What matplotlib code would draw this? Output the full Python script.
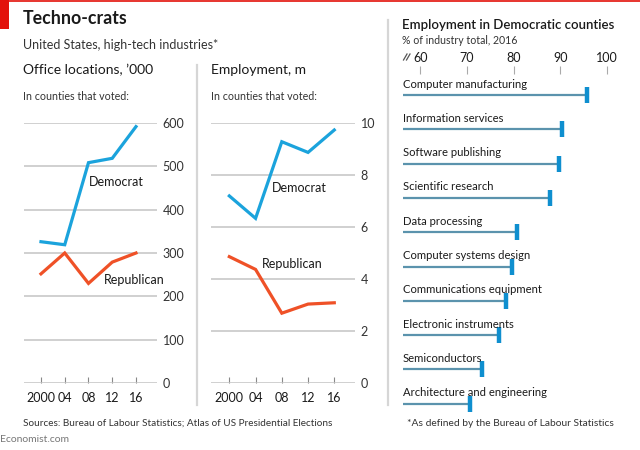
import matplotlib
matplotlib.use("Agg")
import matplotlib.pyplot as plt
from matplotlib.patches import Rectangle
from matplotlib.lines import Line2D

plt.rcParams['font.family'] = ['Lato', 'DejaVu Sans']

# ---------------- data ----------------
years = [2000, 2004, 2008, 2012, 2016]
year_labels = ['2000', '04', '08', '12', '16']

office_dem = [326, 319, 508, 518, 591]
office_rep = [252, 300, 230, 279, 300]
office_ticks = [0, 100, 200, 300, 400, 500, 600]

emp_dem = [7.19, 6.33, 9.27, 8.86, 9.72]
emp_rep = [4.86, 4.37, 2.69, 3.04, 3.09]
emp_ticks = [0, 2, 4, 6, 8, 10]

industries = ['Computer manufacturing', 'Information services', 'Software publishing',
              'Scientific research', 'Data processing', 'Computer systems design',
              'Communications equipment', 'Electronic instruments', 'Semiconductors',
              'Architecture and engineering']
dem_share = [95.7, 90.3, 89.7, 87.9, 80.8, 79.7, 78.4, 76.8, 73.2, 70.6]
share_ticks = [60, 70, 80, 90, 100]

DEM = '#1ba3dc'
REP = '#ef5127'
GRID = '#c4c4c4'
TXT = '#1a1a1a'
SUB = '#333333'

W, H = 640, 450
fig = plt.figure(figsize=(W / 100, H / 100), dpi=100)


def box(x0, y0, x1, y1):
    return [x0 / W, 1 - y1 / H, (x1 - x0) / W, (y1 - y0) / H]


def fx(px):
    return px / W


def fy(py):
    return 1 - py / H


# header
fig.add_artist(Line2D([0, 1], [fy(1), fy(1)], color='#e3120b', lw=1.2))
fig.add_artist(Rectangle((0, fy(29)), fx(9), 29 / H, color='#e3120b', lw=0))
fig.text(fx(23), fy(19), 'Techno-crats', fontsize=12.8, fontweight='bold', color=TXT, va='center')
fig.text(fx(23), fy(45), 'United States, high-tech industries*', fontsize=9, color=SUB, va='center')

# separators
fig.add_artist(Line2D([fx(197), fx(197)], [fy(65), fy(405)], color='#d6d6d6', lw=1.6))
fig.add_artist(Line2D([fx(388), fx(388)], [fy(20), fy(405)], color='#d6d6d6', lw=1.6))

# panel titles
fig.text(fx(23), fy(70), "Office locations, \u2019000", fontsize=10, color=TXT, va='center')
fig.text(fx(23), fy(96), 'In counties that voted:', fontsize=7.7, color=SUB, va='center')
fig.text(fx(211), fy(70), 'Employment, m', fontsize=10, color=TXT, va='center')
fig.text(fx(211), fy(96), 'In counties that voted:', fontsize=7.7, color=SUB, va='center')


def line_panel(rect, xl, yl, ticks, dem, rep, dem_lab, rep_lab):
    ax = fig.add_axes(rect)
    ax.set_xlim(*xl)
    ax.set_ylim(*yl)
    ax.plot(years, dem, color=DEM, lw=2.3, solid_joinstyle='miter', clip_on=False, zorder=3)
    ax.plot(years, rep, color=REP, lw=2.3, solid_joinstyle='miter', clip_on=False, zorder=3)
    for s in ax.spines.values():
        s.set_visible(False)
    ax.set_yticks(ticks)
    ax.yaxis.tick_right()
    ax.yaxis.grid(True, color=GRID, lw=1.1)
    ax.tick_params(axis='y', length=0, pad=4, labelsize=9, labelcolor=SUB)
    ax.set_xticks(years)
    ax.set_xticklabels(year_labels)
    ax.tick_params(axis='x', direction='in', length=4, width=0.8, color='#888888',
                   pad=6, labelsize=9, labelcolor=TXT)
    ax.set_facecolor('none')
    ax.text(dem_lab[0], dem_lab[1], 'Democrat', fontsize=9, color=TXT, va='center', ha='left')
    ax.text(rep_lab[0], rep_lab[1], 'Republican', fontsize=9, color=TXT, va='center', ha='left')
    return ax


line_panel(box(24, 122.7, 157, 383.3), (1997.14, 2019.54), (0, 600), office_ticks,
           office_dem, office_rep, (2008.1, 464), (2010.6, 238))
line_panel(box(210.7, 122.7, 355, 383.3), (1997.16, 2019.16), (0, 10), emp_ticks,
           emp_dem, emp_rep, (2006.5, 7.48), (2004.9, 4.57))

# right panel
fig.text(fx(402), fy(25), 'Employment in Democratic counties', fontsize=9.5, fontweight='semibold',
         color=TXT, va='center')
fig.text(fx(402), fy(41), '% of industry total, 2016', fontsize=7.6, color=SUB, va='center')

x_left = 56.2
top_px = 73.5
axr = fig.add_axes(box(402.7, top_px, 625, 415))
axr.set_xlim(x_left, x_left + (625 - 402.7) / 4.66)
axr.set_ylim((415 - 95) / 34.3, -(95 - top_px) / 34.3)
pos = list(range(len(industries)))
axr.hlines(pos, x_left, dem_share, color='#5b93ad', lw=1.6)
axr.plot(dem_share, pos, ls='none', marker='|', markersize=11, markeredgewidth=3.2,
         color='#0f8fcf')
for i, name in enumerate(industries):
    axr.text(x_left, i - 0.32, name, fontsize=8.1, color=TXT, va='center', ha='left')
for s in axr.spines.values():
    s.set_visible(False)
axr.set_yticks([])
axr.xaxis.tick_top()
axr.set_xticks(share_ticks)
axr.tick_params(axis='x', direction='out', length=6, width=0.8, color='#aaaaaa',
                pad=1, labelsize=9, labelcolor=TXT)
axr.set_facecolor('none')

# axis-break mark
for dx in (0, 3.0):
    fig.add_artist(Line2D([fx(403.5 + dx), fx(407.0 + dx)], [fy(60), fy(54)],
                          color='#555555', lw=0.9))

# footer
fig.text(fx(23), fy(423), 'Sources: Bureau of Labour Statistics; Atlas of US Presidential Elections',
         fontsize=7.2, color=SUB, va='center')
fig.text(fx(0), fy(440), 'Economist.com', fontsize=7.5, color='#777777', va='center')
fig.text(fx(407), fy(423), '*As defined by the Bureau of Labour Statistics', fontsize=7.4,
         color=SUB, va='center')

fig.savefig('out.png', dpi=100)
